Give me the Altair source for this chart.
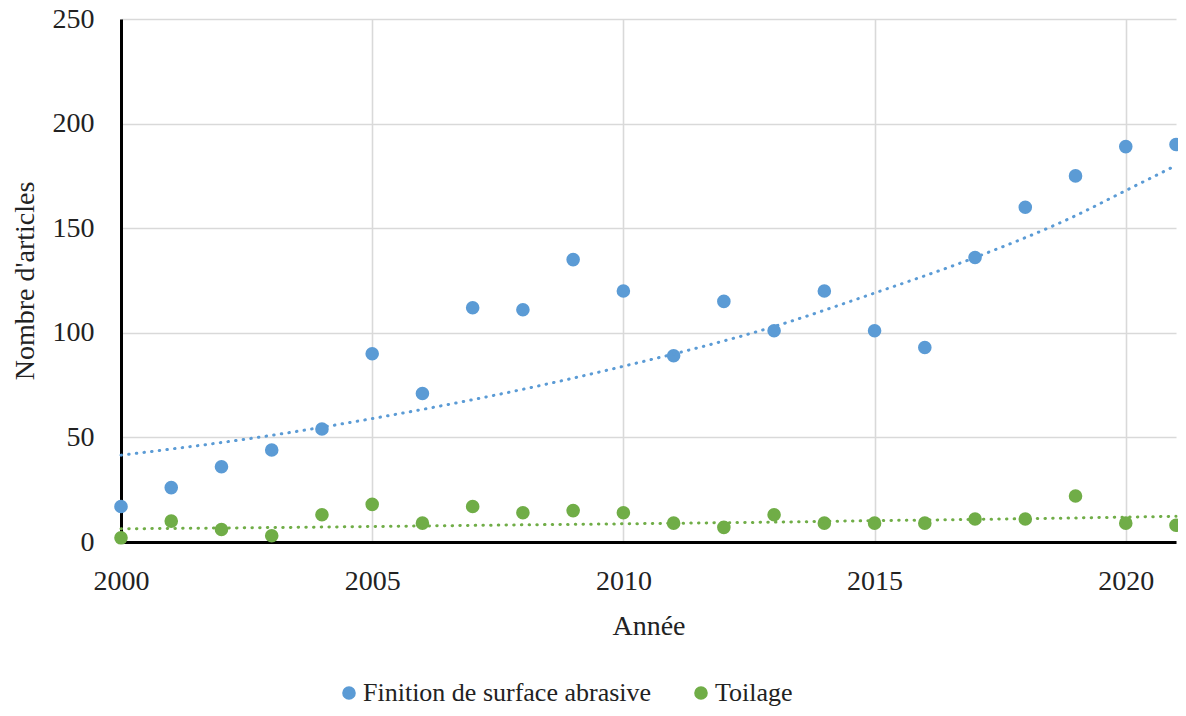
import altair as alt
import pandas as pd

years = list(range(2000, 2022))
finition = [17, 26, 36, 44, 54, 90, 71, 112, 111, 135, 120, 89, 115, 101, 120, 101, 93, 136, 160, 175, 189, 190]
toilage = [2, 10, 6, 3, 13, 18, 9, 17, 14, 15, 14, 9, 7, 13, 9, 9, 9, 11, 11, 22, 9, 8]
series_names = ["Finition de surface abrasive", "Toilage"]
series_colors = ["#5B9BD5", "#70AD47"]
x_ticks = [2000, 2005, 2010, 2015, 2020]
y_ticks = [0, 50, 100, 150, 200, 250]

# Exponential trendlines, values
trend_years = [2000, 2003, 2005, 2008, 2010, 2013, 2015, 2017, 2019, 2020, 2021]
finition_trend = [41.5, 51, 59, 73, 84, 103, 119, 136, 156, 168, 180]
toilage_trend = [6.3, 6.9, 7.4, 8.2, 8.7, 9.5, 10.2, 10.8, 11.5, 11.9, 12.3]

FONT = "Liberation Serif"
TEXT = "#222222"

df = pd.DataFrame({
    "Année": years * 2,
    "Nombre": finition + toilage,
    "Série": [series_names[0]] * len(years) + [series_names[1]] * len(years),
})
trend_df = pd.DataFrame({
    "Année": trend_years * 2,
    "Nombre": finition_trend + toilage_trend,
    "Série": [series_names[0]] * len(trend_years) + [series_names[1]] * len(trend_years),
})

x_scale = alt.Scale(domain=[2000, 2021], nice=False, zero=False)
y_scale = alt.Scale(domain=[0, 250], nice=False)

x_enc = alt.X(
    "Année:Q", scale=x_scale,
    axis=alt.Axis(values=x_ticks, format="d", title="Année", titleX=527.5, titleY=92,
                  titleBaseline="alphabetic", labelPadding=25, labelBaseline="top",
                  labelFlush=False),
)
y_enc = alt.Y(
    "Nombre:Q", scale=y_scale,
    axis=alt.Axis(values=y_ticks, title="Nombre d'articles", titleX=-88, titleY=261.5,
                  titleAngle=-90, titleAlign="center", titleBaseline="alphabetic",
                  labelPadding=27, labelFlush=False),
)

points = alt.Chart(df).mark_circle(size=185, opacity=1).encode(
    x=x_enc,
    y=y_enc,
    color=alt.Color(
        "Série:N",
        scale=alt.Scale(domain=series_names, range=series_colors),
        legend=alt.Legend(
            title=None, orient="none", direction="horizontal",
            legendX=215, legendY=661, symbolType="circle", symbolSize=185,
            symbolStrokeWidth=0, labelFont=FONT, labelFontSize=26, labelColor=TEXT,
            labelOffset=1, columnPadding=36, padding=0, labelLimit=500,
        ),
    ),
)

lines = []
for name, color in zip(series_names, series_colors):
    lines.append(
        alt.Chart(trend_df).transform_filter(alt.datum["Série"] == name)
        .mark_line(strokeDash=[0.5, 7.2], strokeWidth=3, strokeCap="round", color=color,
                   interpolate="monotone")
        .encode(
            x=alt.X("Année:Q", scale=x_scale),
            y=alt.Y("Nombre:Q", scale=y_scale),
        )
    )

chart = alt.layer(points, *lines).properties(
    width=1055,
    height=523,
    autosize=alt.AutoSizeParams(type="none"),
    padding={"left": 113, "top": 11, "right": 2, "bottom": 166},
).configure_view(stroke=None).configure_axis(
    labelFont=FONT, labelFontSize=28, labelColor=TEXT,
    titleFont=FONT, titleFontSize=28, titleColor=TEXT, titleFontWeight="normal",
    domainColor="#000000", domainWidth=3, tickSize=0, ticks=False,
    gridColor="#D9D9D9", gridWidth=1.6,
)

chart.save("out.html", embed_options={"renderer": "svg", "actions": False})
